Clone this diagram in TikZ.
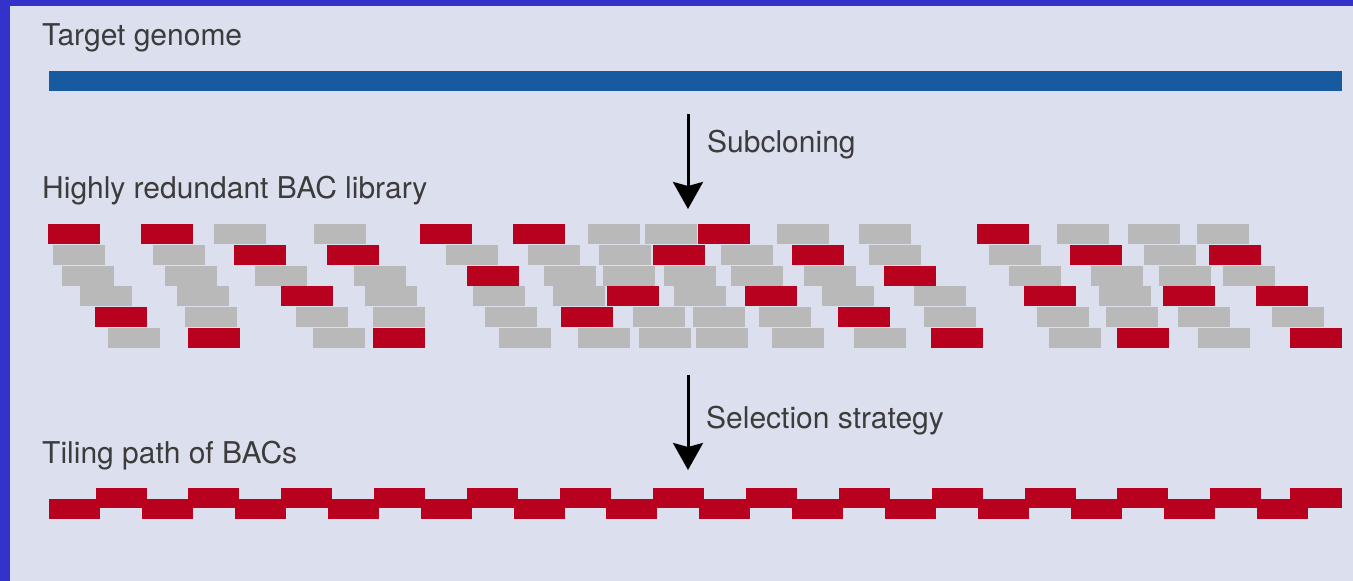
\documentclass[tikz,border=0pt]{standalone}
\usepackage{fontspec}
\setmainfont{TeX Gyre Heros}
\usetikzlibrary{arrows.meta}
\definecolor{framecol}{HTML}{3333CC}
\definecolor{bgcol}{HTML}{DCDFEE}
\definecolor{genomecol}{HTML}{175A9F}
\definecolor{bacred}{HTML}{B8001F}
\definecolor{bacgray}{HTML}{B9B9B9}
\definecolor{txtcol}{HTML}{3C3C3C}
\begin{document}
\begin{tikzpicture}[x=1pt,y=-1pt,
  lbl/.style={anchor=base west,inner sep=0pt,text=txtcol,font=\fontsize{30}{36}\selectfont},
  flow/.style={line width=3pt,-{Stealth[width=30pt,length=27pt,inset=4pt]}},
  redbar/.style={fill=bacred},
  graybar/.style={fill=bacgray},
  genomebar/.style={fill=genomecol}]
\useasboundingbox (0,0) rectangle (1353,581);
\fill[framecol] (0,0) rectangle (1353,581);
\fill[bgcol] (10,6) rectangle (1353,581);

% labels
\node[lbl] (tg) at (42,45) {Target genome};
\node[lbl] (sc) at (707,152) {Subcloning};
\node[lbl] (hr) at (42,198) {Highly redundant BAC library};
\node[lbl] (ss) at (706,428) {Selection strategy};
\node[lbl] (tp) at (42,463) {Tiling path of BACs};

% target genome
\fill[genomebar] (49,71) rectangle (1342,91);

% arrows
\coordinate (a1s) at (688,114);
\coordinate (a1e) at (688,209);
\coordinate (a2s) at (688,375);
\coordinate (a2e) at (688,470);
\draw[flow] (a1s) -- (a1e);
\draw[flow] (a2s) -- (a2e);

% BAC library: gray clones
\foreach \x in {214,314,588,645,777,859,1057,1128,1197} \fill[graybar] (\x,224) rectangle ++(52,20);
\foreach \x in {53,153,446,528,599,721,869,989,1144} \fill[graybar] (\x,244.8) rectangle ++(52,20);
\foreach \x in {62,165,255,354,544,603,664,731,804,1009,1091,1159,1223} \fill[graybar] (\x,265.6) rectangle ++(52,20);
\foreach \x in {80,177,365,473,553,674,822,914,1099} \fill[graybar] (\x,286.4) rectangle ++(52,20);
\foreach \x in {185,296,373,485,633,693,759,924,1037,1106,1178,1272} \fill[graybar] (\x,307.2) rectangle ++(52,20);
\foreach \x in {108,313,499,578,639,696,772,854,1049,1198} \fill[graybar] (\x,328) rectangle ++(52,20);

% BAC library: selected clones
\foreach \x in {48,141,420,513,698,977} \fill[redbar] (\x,224) rectangle ++(52,20);
\foreach \x in {234,327,653,792,1070,1209} \fill[redbar] (\x,244.8) rectangle ++(52,20);
\foreach \x in {467,884} \fill[redbar] (\x,265.6) rectangle ++(52,20);
\foreach \x in {281,607,745,1024,1163,1256} \fill[redbar] (\x,286.4) rectangle ++(52,20);
\foreach \x in {95,561,838} \fill[redbar] (\x,307.2) rectangle ++(52,20);
\foreach \x in {188,373,931,1117,1290} \fill[redbar] (\x,328) rectangle ++(52,20);

% tiling path
\foreach \k in {0,...,13} \fill[redbar] ({49+92.9*\k},499) rectangle ++(51,20);
\foreach \k in {0,...,12} \fill[redbar] ({95.5+92.9*\k},488) rectangle ++(51,20);
\fill[redbar] (1290,488) rectangle (1342,508);
\end{tikzpicture}
\end{document}
